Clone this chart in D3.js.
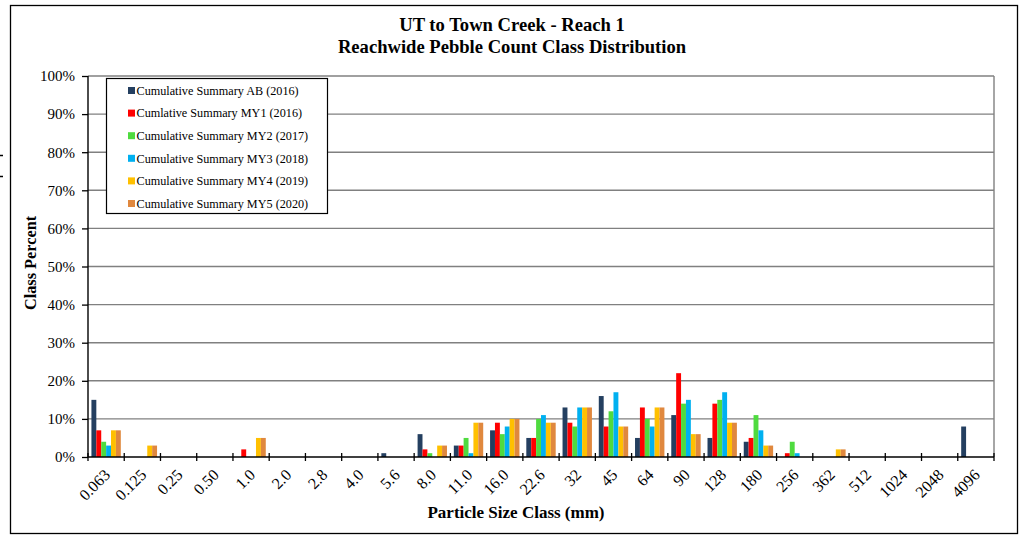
<!DOCTYPE html>
<html>
<head>
<meta charset="utf-8">
<script src="https://cdn.jsdelivr.net/npm/d3@7"></script>
<style>
  html, body { margin: 0; padding: 0; background: #fff; }
  svg { display: block; }
  text { font-family: "Liberation Serif", "Times New Roman", serif; fill: #000; }
</style>
</head>
<body>
<svg id="chart" width="1030" height="540"></svg>
<script>
const categories = ["0.063","0.125","0.25","0.50","1.0","2.0","2.8","4.0","5.6","8.0","11.0","16.0","22.6","32","45","64","90","128","180","256","362","512","1024","2048","4096"];
const seriesNames = ["Cumulative Summary AB (2016)","Cumlative Summary MY1 (2016)","Cumulative Summary MY2 (2017)","Cumulative Summary MY3 (2018)","Cumulative Summary MY4 (2019)","Cumulative Summary MY5 (2020)"];
const seriesColors = ["#243F60","#FF0000","#4FDB3F","#00B0F0","#FFC000","#E0883E"];
//                 0.063 .125 .25 .50 1.0 2.0 2.8 4.0 5.6 8.0 11 16 22.6 32 45 64 90 128 180 256 362 512 1024 2048 4096
const valuesAB  = [15, 0, 0, 0, 0, 0, 0, 0, 1, 6, 3, 7, 5, 13, 16, 5, 11, 5, 4, 0, 0, 0, 0, 0, 8];
const valuesMY1 = [7, 0, 0, 0, 2, 0, 0, 0, 0, 2, 3, 9, 5, 9, 8, 13, 22, 14, 5, 1, 0, 0, 0, 0, 0];
const valuesMY2 = [4, 0, 0, 0, 0, 0, 0, 0, 0, 1, 5, 6, 10, 8, 12, 10, 14, 15, 11, 4, 0, 0, 0, 0, 0];
const valuesMY3 = [3, 0, 0, 0, 0, 0, 0, 0, 0, 0, 1, 8, 11, 13, 17, 8, 15, 17, 7, 1, 0, 0, 0, 0, 0];
const valuesMY4 = [7, 3, 0, 0, 5, 0, 0, 0, 0, 3, 9, 10, 9, 13, 8, 13, 6, 9, 3, 0, 2, 0, 0, 0, 0];
const valuesMY5 = [7, 3, 0, 0, 5, 0, 0, 0, 0, 3, 9, 10, 9, 13, 8, 13, 6, 9, 3, 0, 2, 0, 0, 0, 0];
const yTicks = [0,10,20,30,40,50,60,70,80,90,100];
const titleLines = ["UT to Town Creek - Reach 1", "Reachwide Pebble Count Class Distribution"];
const xTitle = "Particle Size Class (mm)";
const yTitle = "Class Percent";

const allSeries = [valuesAB, valuesMY1, valuesMY2, valuesMY3, valuesMY4, valuesMY5];

const svg = d3.select("#chart");
const pL = 88, pR = 994, pT = 76, pB = 457;

// outer border
svg.append("rect").attr("x", 10.5).attr("y", 5.5).attr("width", 1007).attr("height", 528)
  .attr("fill", "none").attr("stroke", "#000").attr("stroke-width", 1.3);

// stray marks at far left
[155.5, 176.5].forEach(yy => svg.append("line").attr("x1", 0).attr("x2", 3).attr("y1", yy).attr("y2", yy)
  .attr("stroke", "#000").attr("stroke-width", 1.5));

const x = d3.scaleBand().domain(categories).range([pL, pR]).paddingInner(0).paddingOuter(0);
const xInner = d3.scaleBand().domain(d3.range(6)).range([0, x.bandwidth()]).paddingInner(0).paddingOuter(0.7);
const y = d3.scaleLinear().domain([0, 100]).range([pB, pT]);

// gridlines
svg.append("g").selectAll("line").data(yTicks.filter(t => t > 0)).join("line")
  .attr("x1", pL).attr("x2", pR)
  .attr("y1", d => y(d)).attr("y2", d => y(d))
  .attr("stroke", "#808080").attr("stroke-width", 1.4);
// right border of plot
svg.append("line").attr("x1", pR).attr("x2", pR).attr("y1", pT).attr("y2", pB)
  .attr("stroke", "#808080").attr("stroke-width", 1.4);

// bars
allSeries.forEach((vals, si) => {
  svg.append("g").selectAll("rect").data(vals.map((v, i) => ({ c: categories[i], v })).filter(d => d.v > 0)).join("rect")
    .attr("x", d => x(d.c) + xInner(si))
    .attr("width", xInner.bandwidth())
    .attr("y", d => y(d.v))
    .attr("height", d => y(0) - y(d.v))
    .attr("fill", seriesColors[si]);
});

// y axis
const yAxis = svg.append("g").attr("transform", `translate(${pL},0)`)
  .call(d3.axisLeft(y).tickValues(yTicks).tickFormat(d => d + "%").tickSize(6).tickPadding(7));
yAxis.select(".domain").attr("stroke", "#000").attr("stroke-width", 1.4).attr("d", `M0,${pT}V${pB}`);
yAxis.selectAll(".tick line").attr("stroke", "#000").attr("stroke-width", 1.3);
yAxis.selectAll("text").style("font-family", "'Liberation Serif', serif").style("font-size", "15px").attr("fill", "#000");

// x axis
const xAxisG = svg.append("g").attr("transform", `translate(0,${pB})`);
xAxisG.append("line").attr("x1", pL).attr("x2", pR).attr("y1", 0).attr("y2", 0)
  .attr("stroke", "#000").attr("stroke-width", 1.4);
const boundaries = categories.map(c => x(c)).concat([pR]);
xAxisG.selectAll("line.tk").data(boundaries).join("line").attr("class", "tk")
  .attr("x1", d => d).attr("x2", d => d).attr("y1", -4).attr("y2", 4)
  .attr("stroke", "#000").attr("stroke-width", 1.3);
xAxisG.selectAll("text").data(categories).join("text")
  .attr("transform", d => `translate(${x(d) + x.bandwidth() / 2 + 1},${15}) rotate(-45)`)
  .attr("text-anchor", "end").attr("dy", "0.35em")
  .style("font-size", "16px")
  .text(d => d);

// titles
svg.append("text").attr("x", 512).attr("y", 31).attr("text-anchor", "middle")
  .style("font-size", "18.6px").style("font-weight", "bold").text(titleLines[0]);
svg.append("text").attr("x", 512).attr("y", 53).attr("text-anchor", "middle")
  .style("font-size", "18.6px").style("font-weight", "bold").text(titleLines[1]);
svg.append("text").attr("x", 516).attr("y", 518).attr("text-anchor", "middle")
  .style("font-size", "17px").style("font-weight", "bold").text(xTitle);
svg.append("text").attr("transform", `translate(36,263) rotate(-90)`).attr("text-anchor", "middle")
  .style("font-size", "16.3px").style("font-weight", "bold").text(yTitle);

// legend
const lg = svg.append("g").attr("transform", "translate(106.5,78.5)");
lg.append("rect").attr("width", 221).attr("height", 135).attr("fill", "#fff")
  .attr("stroke", "#000").attr("stroke-width", 1.2);
const items = lg.selectAll("g.it").data(seriesNames).join("g").attr("class", "it")
  .attr("transform", (d, i) => `translate(0,${12 + i * 22.6})`);
items.append("rect").attr("x", 21.5).attr("y", -3.5).attr("width", 7).attr("height", 7)
  .attr("fill", (d, i) => seriesColors[i]);
items.append("text").attr("x", 30).attr("y", 0).attr("dy", "0.35em")
  .style("font-size", "12.2px").text(d => d);
</script>
</body>
</html>
